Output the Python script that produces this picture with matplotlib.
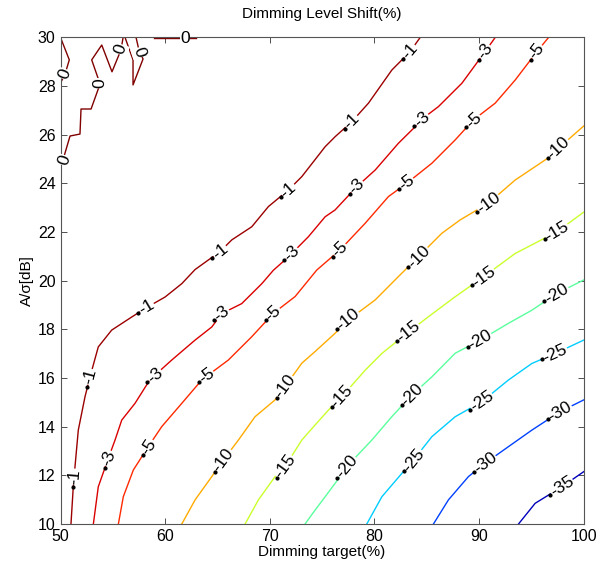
import numpy as np
import matplotlib
matplotlib.use("Agg")
import matplotlib.pyplot as plt

plt.rcParams['font.family'] = ['Liberation Sans', 'DejaVu Sans']

# contour levels (Dimming Level Shift %)
levels = [0, -1, -3, -5, -10, -15, -20, -25, -30, -35]

# level 0 comes in several broken pieces near the top-left corner
zero_a_x = [50.0, 50.84, 50.43, 50.0]
zero_a_y = [30.0, 29.08, 28.49, 28.13]
zero_b_x = [50.0, 50.24, 50.91, 51.86, 51.96, 52.92, 53.78, 52.98, 53.94, 54.92, 55.78, 55.98]
zero_b_y = [24.76, 24.97, 25.95, 26.03, 27.06, 27.06, 28.09, 29.08, 29.69, 28.59, 29.49, 30.0]
zero_c_x = [56.17, 56.93, 56.93, 57.89, 57.55, 57.22]
zero_c_y = [30.0, 29.08, 28.05, 29.12, 29.38, 30.0]
zero_d_x = [58.94, 62.95]
zero_d_y = [29.96, 29.96]
zero_lab_x = [50.36, 50.43, 53.78, 55.76, 57.53, 61.90]
zero_lab_y = [24.95, 28.49, 28.12, 29.51, 29.38, 29.97]

m1_x = [51.0, 51.22, 51.32, 51.70, 52.34, 52.82, 53.61, 54.89, 56.81, 58.24, 59.99, 61.59, 62.86,
        65.25, 66.37, 68.28, 69.87, 71.78, 73.06, 75.29, 76.24, 77.84, 79.43, 81.66, 83.41, 84.37]
m1_y = [10.0, 11.53, 12.05, 13.86, 15.23, 16.05, 17.28, 17.97, 18.51, 18.90, 19.33, 19.88, 20.46,
        21.20, 21.68, 22.22, 23.05, 23.73, 24.28, 25.51, 25.92, 26.54, 27.30, 28.66, 29.42, 30.0]
m1_lab_x = [51.30, 52.82, 58.24, 65.25, 71.78, 77.84, 83.41]

m3_x = [53.14, 53.61, 54.57, 55.21, 55.85, 57.12, 58.72, 59.03, 60.63, 62.86, 64.46, 65.41, 67.32,
        69.24, 70.34, 71.78, 73.69, 75.29, 76.24, 78.32, 80.07, 82.29, 83.89, 84.53, 86.12, 88.36,
        90.58, 91.54]
m3_y = [10.0, 11.53, 12.70, 13.45, 14.27, 14.96, 16.05, 16.12, 16.74, 17.56, 18.10, 18.65, 19.06,
        19.88, 20.43, 20.98, 21.81, 22.63, 22.91, 23.87, 24.55, 25.65, 26.33, 26.64, 27.16, 28.12,
        29.42, 30.0]
m3_lab_x = [54.57, 59.03, 65.41, 72.10, 78.32, 84.53, 90.58]

m5_x = [55.53, 56.00, 56.96, 58.39, 59.67, 61.59, 63.50, 63.98, 66.04, 68.28, 70.34, 72.42, 74.49,
        76.72, 79.11, 81.34, 83.10, 85.49, 87.72, 89.46, 91.54, 93.45, 95.53, 96.64]
m5_y = [10.0, 11.12, 12.22, 13.18, 14.00, 14.96, 15.92, 16.08, 16.74, 17.70, 18.66, 19.35, 20.44,
        21.27, 22.36, 23.46, 24.01, 24.83, 25.79, 26.61, 27.30, 28.25, 29.42, 30.0]
m5_lab_x = [58.39, 63.98, 70.34, 76.72, 83.10, 89.46, 95.53]

m10_x = [61.59, 62.86, 64.46, 65.56, 67.00, 68.59, 70.50, 71.46, 73.06, 74.33, 76.24, 77.51, 80.07,
         82.29, 84.21, 86.44, 88.19, 90.90, 93.45, 97.27, 97.59, 100.0]
m10_y = [10.0, 10.99, 11.95, 12.63, 13.45, 14.41, 15.10, 15.65, 16.61, 17.09, 17.84, 18.39, 19.21,
         20.17, 20.99, 21.95, 22.50, 23.19, 24.14, 25.24, 25.45, 26.36]
m10_lab_x = [65.56, 71.46, 77.51, 84.21, 90.90, 97.59]

m15_x = [67.64, 68.91, 70.51, 71.46, 73.06, 74.33, 75.60, 76.88, 79.11, 80.71, 83.25, 85.16, 87.71,
         90.42, 93.45, 97.44, 100.0]
m15_y = [10.0, 10.99, 11.95, 12.36, 13.45, 14.07, 14.68, 15.23, 16.32, 17.01, 17.89, 18.52, 19.34,
         20.16, 21.12, 22.01, 22.82]
m15_lab_x = [71.46, 76.88, 83.25, 90.42, 97.44]

m20_x = [73.37, 74.33, 75.29, 76.24, 77.36, 79.75, 81.66, 83.58, 85.49, 87.72, 90.11, 92.81, 95.05,
         97.44, 100.0]
m20_y = [10.0, 10.57, 11.12, 11.67, 12.36, 13.45, 14.41, 15.30, 16.05, 17.02, 17.56, 18.25, 18.79,
         19.48, 20.03]
m20_lab_x = [77.36, 83.58, 90.11, 97.44]

m25_x = [79.27, 80.71, 82.62, 83.73, 85.49, 87.72, 90.27, 92.81, 95.05, 97.28, 100.0]
m25_y = [10.0, 11.12, 12.08, 12.63, 13.59, 14.41, 15.03, 15.92, 16.60, 17.01, 17.56]
m25_lab_x = [83.73, 90.27, 97.28]

m30_x = [85.64, 87.07, 88.99, 90.58, 92.81, 95.05, 97.75, 100.0]
m30_y = [10.0, 10.99, 11.95, 12.50, 13.18, 13.86, 14.62, 15.10]
m30_lab_x = [90.58, 97.75]

m35_x = [93.77, 95.36, 97.92, 100.0]
m35_y = [10.0, 10.85, 11.53, 12.15]
m35_lab_x = [97.92]

x_ticks = [50, 60, 70, 80, 90, 100]
y_ticks = [10, 12, 14, 16, 18, 20, 22, 24, 26, 28, 30]

fig = plt.figure(figsize=(6.1, 5.68), dpi=100)
ax = fig.add_axes([0.0992, 0.0775, 0.8577, 0.8565])
ax.set_xlim(50, 100)
ax.set_ylim(10, 30)

cmap = plt.get_cmap('jet')
norm = plt.Normalize(-37, 0)


def label_at(xs, ys, px, py, txt, col):
    pts = ax.transData.transform(np.column_stack([xs, ys]))
    p = ax.transData.transform((px, py))
    d = np.hypot(pts[:, 0] - p[0], pts[:, 1] - p[1])
    i = int(np.argmin(d))
    j0, j1 = max(i - 1, 0), min(i + 1, len(xs) - 1)
    dx, dy = pts[j1] - pts[j0]
    ang = np.degrees(np.arctan2(dy, dx))
    if ang > 90:
        ang -= 180
    if ang <= -90:
        ang += 180
    ax.text(px, py, txt, rotation=ang, rotation_mode='anchor', ha='center', va='center',
            fontsize=12.5, color='black', zorder=4,
            bbox=dict(boxstyle='square,pad=0.02', fc='white', ec='none'))
    if txt != '0':
        u = np.array([np.cos(np.radians(ang)), np.sin(np.radians(ang))])
        half = 4.3 * len(txt) + 1.5
        q = ax.transData.inverted().transform(p - half * u)
        ax.plot(q[0], q[1], 'o', ms=2.0, color='black', zorder=5)


zero_col = cmap(norm(0))
for xs, ys in [(zero_a_x, zero_a_y), (zero_b_x, zero_b_y), (zero_c_x, zero_c_y), (zero_d_x, zero_d_y)]:
    ax.plot(xs, ys, color=zero_col, lw=1.0, zorder=2)
zero_pieces = [(zero_b_x, zero_b_y), (zero_a_x, zero_a_y), (zero_b_x, zero_b_y),
               (zero_b_x, zero_b_y), (zero_c_x, zero_c_y), (zero_d_x, zero_d_y)]
for (xs, ys), lx, ly in zip(zero_pieces, zero_lab_x, zero_lab_y):
    label_at(xs, ys, lx, ly, '0', zero_col)

lines = [(-1, m1_x, m1_y, m1_lab_x), (-3, m3_x, m3_y, m3_lab_x), (-5, m5_x, m5_y, m5_lab_x),
         (-10, m10_x, m10_y, m10_lab_x), (-15, m15_x, m15_y, m15_lab_x),
         (-20, m20_x, m20_y, m20_lab_x), (-25, m25_x, m25_y, m25_lab_x),
         (-30, m30_x, m30_y, m30_lab_x), (-35, m35_x, m35_y, m35_lab_x)]
for lev, xs, ys, lab_x in lines:
    col = cmap(norm(lev))
    ax.plot(xs, ys, color=col, lw=1.0, zorder=2)
    for lx in lab_x:
        ly = np.interp(lx, xs, ys)
        label_at(xs, ys, lx, ly, str(lev), col)

ax.set_xticks(x_ticks)
ax.set_yticks(y_ticks)
ax.tick_params(direction='in', top=True, right=True, length=4, width=0.6,
               labelsize=11.5, colors='#333333', labelcolor='black')
for s in ax.spines.values():
    s.set_color('#555555')
    s.set_linewidth(0.8)

ax.set_title('Dimming Level Shift(%)', fontsize=11, pad=14)
ax.set_xlabel('Dimming target(%)', fontsize=11, labelpad=1)
ax.set_ylabel('A/σ[dB]', fontsize=11)
ax.yaxis.set_label_coords(-0.05, 0.5)

fig.savefig('out.png', dpi=100)
